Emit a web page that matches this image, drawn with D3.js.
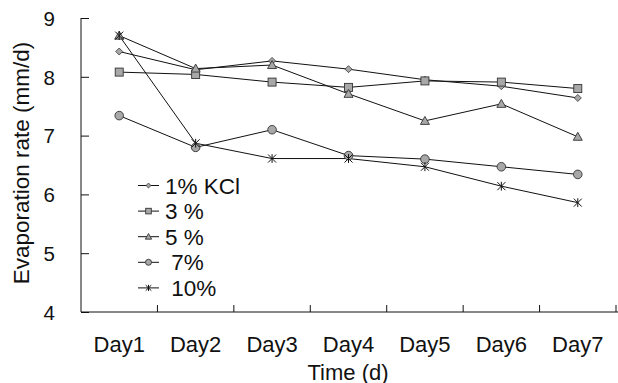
<!DOCTYPE html>
<html><head><meta charset="utf-8">
<script src="https://cdn.jsdelivr.net/npm/d3@7"></script>
<style>body{margin:0;background:#fff}svg{display:block}text{font-family:"Liberation Sans",Arial,sans-serif;fill:#111}</style>
</head><body>
<script>
const days = ["Day1","Day2","Day3","Day4","Day5","Day6","Day7"];
const seriesNames = ["1% KCl","3 %","5 %"," 7%"," 10%"];
const kcl1 = [8.43,8.12,8.27,8.13,7.95,7.84,7.64];
const pct3 = [8.08,8.04,7.91,7.82,7.93,7.91,7.80];
const pct5 = [8.70,8.14,8.20,7.71,7.25,7.54,6.98];
const pct7 = [7.34,6.80,7.10,6.66,6.60,6.47,6.34];
const pct10 = [8.70,6.87,6.61,6.61,6.47,6.14,5.86];
const yTicks = [4,5,6,7,8,9];
const markers = ["diamond","square","triangle","circle","star"];
const allSeries = [kcl1,pct3,pct5,pct7,pct10];

const W=618,H=383;
const svg=d3.select("body").append("svg").attr("width",W).attr("height",H);
const x=d3.scaleBand().domain(days).range([81,616]);
const y=d3.scaleLinear().domain([4,9]).range([312,18]);

// y axis
const ya=svg.append("g").attr("transform","translate(81,0)")
  .call(d3.axisRight(y).tickValues(yTicks).tickSize(8).tickFormat(d3.format("d")));
ya.select(".domain").attr("d",`M0,${y(9)}V${y(4)}`).attr("stroke","#111");
ya.selectAll(".tick line").attr("stroke","#111");
ya.selectAll(".tick text").attr("x",-26).attr("text-anchor","end").attr("font-size",20.5).attr("dy","0.36em").attr("fill","#111");
// x axis
const xa=svg.append("g").attr("transform","translate(0,312)")
  .call(d3.axisTop(x).tickSize(0).tickFormat(""));
xa.select(".domain").attr("d",`M81,0H618`).attr("stroke","#111");
// boundary ticks
svg.append("g").selectAll("line").data(days.slice(1).concat(["end"])).join("line")
  .attr("x1",(d,i)=>81+x.step()*(i+1)).attr("x2",(d,i)=>81+x.step()*(i+1))
  .attr("y1",312).attr("y2",305).attr("stroke","#111");
svg.append("g").selectAll("text").data(days).join("text")
  .attr("x",d=>x(d)+x.bandwidth()/2).attr("y",352).attr("text-anchor","middle")
  .attr("font-size",22).text(d=>d);

svg.append("text").attr("x",348).attr("y",379.5).attr("text-anchor","middle").attr("font-size",22).text("Time (d)");
svg.append("text").attr("transform","translate(29,163) rotate(-90)").attr("text-anchor","middle").attr("font-size",22.5).text("Evaporation rate (mm/d)");

function drawMarker(g,type,cx,cy,s){
  const fill="#a8a8a8",st="#333";
  if(type==="diamond"){g.append("path").attr("d",`M${cx},${cy-3.5*s}L${cx+3.5*s},${cy}L${cx},${cy+3.5*s}L${cx-3.5*s},${cy}Z`).attr("fill",fill).attr("stroke",st).attr("stroke-width",0.8);}
  else if(type==="square"){g.append("rect").attr("x",cx-4*s).attr("y",cy-4*s).attr("width",8*s).attr("height",8*s).attr("fill",fill).attr("stroke",st).attr("stroke-width",0.9);}
  else if(type==="triangle"){g.append("path").attr("d",`M${cx},${cy-4.5*s}L${cx+4.5*s},${cy+3.5*s}L${cx-4.5*s},${cy+3.5*s}Z`).attr("fill",fill).attr("stroke",st).attr("stroke-width",0.9);}
  else if(type==="circle"){g.append("circle").attr("cx",cx).attr("cy",cy).attr("r",4.3*s).attr("fill",fill).attr("stroke",st).attr("stroke-width",0.9);}
  else {const r=4*s;g.append("path").attr("d",`M${cx-r},${cy-r}L${cx+r},${cy+r}M${cx-r},${cy+r}L${cx+r},${cy-r}M${cx},${cy-r*1.1}V${cy+r*1.1}`).attr("stroke","#111").attr("stroke-width",1).attr("fill","none");}
}

const line=d3.line().x((d,i)=>x(days[i])+x.bandwidth()/2).y(d=>y(d));
allSeries.forEach((vals,si)=>{
  svg.append("path").attr("d",line(vals)).attr("fill","none").attr("stroke","#111").attr("stroke-width",1);
});
allSeries.forEach((vals,si)=>{
  const g=svg.append("g");
  vals.forEach((v,i)=>drawMarker(g,markers[si],x(days[i])+x.bandwidth()/2,y(v),1));
});

// legend
const lg=svg.append("g");
seriesNames.forEach((n,i)=>{
  const ly=185.5+i*25.6;
  lg.append("line").attr("x1",138).attr("x2",159).attr("y1",ly).attr("y2",ly).attr("stroke","#111");
  drawMarker(lg,markers[i],148.5,ly,0.7);
  lg.append("text").attr("x",165).attr("y",ly).attr("dy","0.36em").attr("font-size",22.5).attr("xml:space","preserve").style("white-space","pre").text(n);
});
</script>
</body></html>
